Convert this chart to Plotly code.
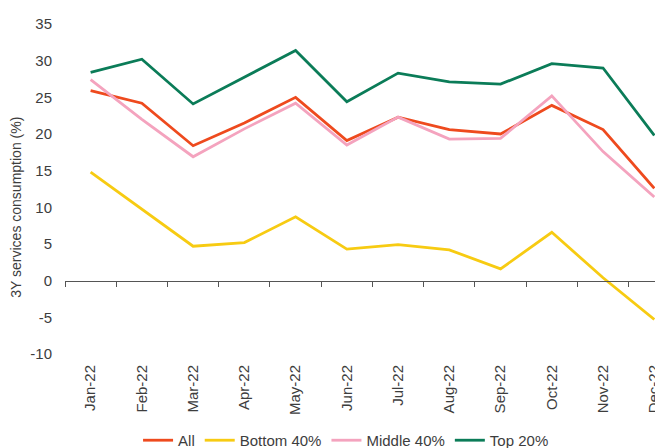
import plotly.graph_objects as go

months = ["Jan-22", "Feb-22", "Mar-22", "Apr-22", "May-22", "Jun-22",
          "Jul-22", "Aug-22", "Sep-22", "Oct-22", "Nov-22", "Dec-22"]
all_vals = [25.9, 24.2, 18.4, 21.5, 25.0, 19.1, 22.3, 20.6, 20.0, 23.9, 20.6, 12.6]
bottom40 = [14.8, 9.8, 4.7, 5.2, 8.7, 4.3, 4.9, 4.2, 1.6, 6.6, 0.4, -5.3]
middle40 = [27.4, 22.0, 16.9, 20.7, 24.2, 18.5, 22.3, 19.3, 19.4, 25.2, 17.6, 11.4]
top20 = [28.4, 30.2, 24.1, 27.7, 31.4, 24.4, 28.3, 27.1, 26.8, 29.6, 29.0, 19.8]
y_ticks = [-10, -5, 0, 5, 10, 15, 20, 25, 30, 35]
y_tick_labels = ["-10", "-5", "0", "5", "10", "15", "20", "25", "30", "35"]

series = [
    ("All", all_vals, "#EE4A1E"),
    ("Bottom 40%", bottom40, "#F7CB12"),
    ("Middle 40%", middle40, "#F4A3BE"),
    ("Top 20%", top20, "#0B7C58"),
]

FONT = "Liberation Sans, Arial, sans-serif"
TXT = "#3d3d3d"

fig = go.Figure()
for name, vals, col in series:
    fig.add_trace(go.Scatter(x=months, y=vals, name=name, mode="lines",
                             line=dict(color=col, width=2.8)))

n = len(months)
x_range = [-0.5, 11.17]
y_range = [y_ticks[0], y_ticks[-1]]

# invisible trace to carry the boundary-tick axis at y=0
fig.add_trace(go.Scatter(x=[i for i in range(n)], y=[0] * n, xaxis="x2",
                         mode="lines", line=dict(width=0), showlegend=False,
                         hoverinfo="skip", opacity=0))

fig.update_layout(
    width=655, height=440,
    margin=dict(l=57, r=0, t=16, b=94, autoexpand=False),
    paper_bgcolor="white", plot_bgcolor="white",
    font=dict(family=FONT, size=15, color=TXT),
    showlegend=True,
    legend=dict(orientation="h", x=0.47, xanchor="center", y=-0.262, yanchor="middle",
                font=dict(size=15, color=TXT), bgcolor="rgba(0,0,0,0)"),
    xaxis=dict(type="category", categoryorder="array", categoryarray=months,
               range=x_range, showgrid=False, showline=False, zeroline=False,
               automargin=False, ticklabeloverflow="allow",
               ticks="", tickangle=-90, ticklabelstandoff=7,
               tickfont=dict(size=15, color=TXT)),
    xaxis2=dict(overlaying="x", anchor="free",
                position=(0 - y_range[0]) / (y_range[1] - y_range[0]),
                range=x_range, showgrid=False, zeroline=False, automargin=False,
                showline=True, linecolor="#555555", linewidth=1.2,
                ticks="outside", ticklen=5, tickcolor="#555555", tickwidth=1,
                tickmode="array", tickvals=[i - 0.5 for i in range(n + 1)],
                showticklabels=False),
    yaxis=dict(range=y_range, tickmode="array", tickvals=y_ticks, ticktext=y_tick_labels,
               showgrid=False, zeroline=False, automargin=False,
               showline=False, ticks="", ticklabelstandoff=12,
               tickfont=dict(size=15, color=TXT)),
    annotations=[dict(text="3Y services consumption (%)", textangle=-90,
                      xref="paper", yref="paper", x=-0.081, y=0.445,
                      xanchor="center", yanchor="middle", showarrow=False,
                      font=dict(size=14, color=TXT))],
)

fig.write_html("out.html")
